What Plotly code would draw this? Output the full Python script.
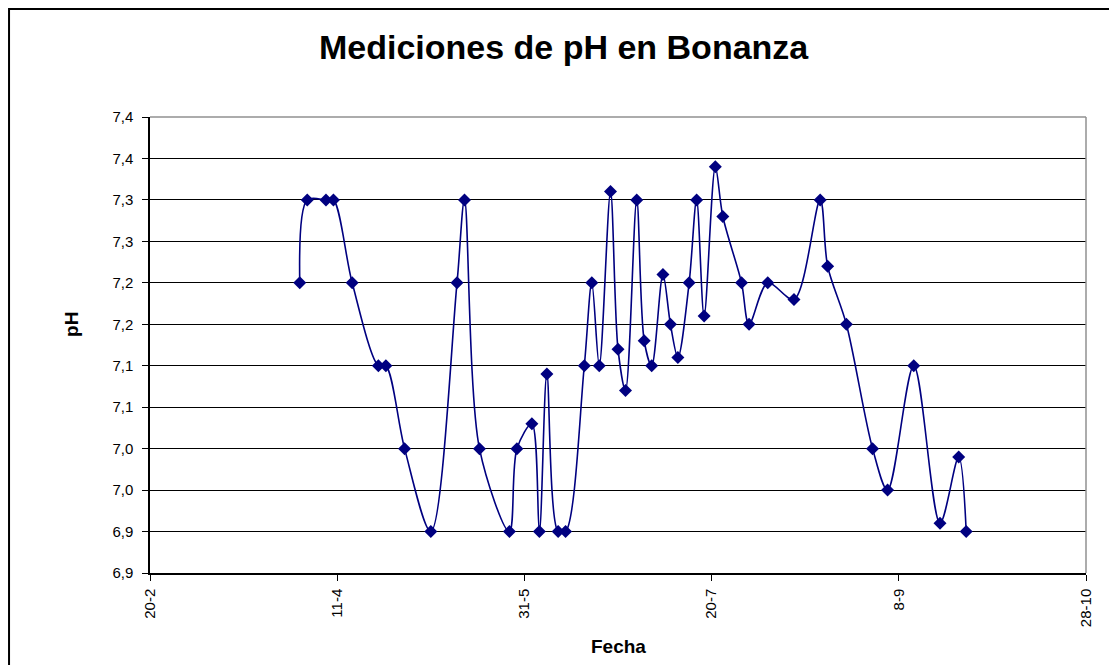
"""Mediciones de pH en Bonanza: Excel-style smoothed line with diamond markers."""
import plotly.graph_objects as go

# --------------------------------------------------------------------------- #
# Data
# --------------------------------------------------------------------------- #
FECHAS = [
    "2007-04-01", "2007-04-03", "2007-04-08", "2007-04-10", "2007-04-15",
    "2007-04-22", "2007-04-24", "2007-04-29", "2007-05-06", "2007-05-13",
    "2007-05-15", "2007-05-19", "2007-05-27", "2007-05-29", "2007-06-02",
    "2007-06-04", "2007-06-06", "2007-06-09", "2007-06-11", "2007-06-16",
    "2007-06-18", "2007-06-20", "2007-06-23", "2007-06-25", "2007-06-27",
    "2007-06-30", "2007-07-02", "2007-07-04", "2007-07-07", "2007-07-09",
    "2007-07-11", "2007-07-14", "2007-07-16", "2007-07-18", "2007-07-21",
    "2007-07-23", "2007-07-28", "2007-07-30", "2007-08-04", "2007-08-11",
    "2007-08-18", "2007-08-20", "2007-08-25", "2007-09-01", "2007-09-05",
    "2007-09-12", "2007-09-19", "2007-09-24", "2007-09-26",
]
PH = [
    7.20, 7.30, 7.30, 7.30, 7.20, 7.10, 7.10, 7.00, 6.90, 7.20,
    7.30, 7.00, 6.90, 7.00, 7.03, 6.90, 7.09, 6.90, 6.90, 7.10,
    7.20, 7.10, 7.31, 7.12, 7.07, 7.30, 7.13, 7.10, 7.21, 7.15,
    7.11, 7.20, 7.30, 7.16, 7.34, 7.28, 7.20, 7.15, 7.20, 7.18,
    7.30, 7.22, 7.15, 7.00, 6.95, 7.10, 6.91, 6.99, 6.90,
]

X_TICKS = ["2007-02-20", "2007-04-11", "2007-05-31", "2007-07-20", "2007-09-08", "2007-10-28"]
X_TICK_LABELS = ["20-2", "11-4", "31-5", "20-7", "8-9", "28-10"]
Y_TICKS = [round(6.85 + 0.05 * i, 2) for i in range(12)]
# Excel rounds half up with one decimal and a comma separator
Y_TICK_LABELS = [f"{v + 1e-6:.1f}".replace(".", ",") for v in Y_TICKS]

NAVY = "#000080"
FONT = "Liberation Sans, Arial, sans-serif"

fig = go.Figure()
fig.add_trace(
    go.Scatter(
        x=FECHAS,
        y=PH,
        mode="lines+markers",
        line=dict(color=NAVY, width=1.6, shape="spline", smoothing=0.9),
        marker=dict(symbol="diamond", size=10, color=NAVY),
        showlegend=False,
    )
)

# the page body has an 8px margin, so the figure is sized to fit the window
fig.update_layout(
    width=1109,
    height=657,
    margin=dict(l=142, r=31, t=109, b=92),
    paper_bgcolor="white",
    plot_bgcolor="white",
    font=dict(family=FONT, color="black", size=15),
    title=dict(
        text="<b>Mediciones de pH en Bonanza</b>",
        x=0.501,
        xanchor="center",
        y=0.9406,
        yanchor="middle",
        font=dict(size=34, family=FONT, color="black"),
    ),
)

fig.update_xaxes(
    type="date",
    range=[X_TICKS[0], X_TICKS[-1]],
    tickvals=X_TICKS,
    ticktext=X_TICK_LABELS,
    tickangle=-90,
    ticks="outside",
    ticklen=6,
    tickcolor="black",
    showline=True,
    linecolor="black",
    linewidth=1.5,
    showgrid=False,
    zeroline=False,
    tickfont=dict(size=15),
    ticklabelstandoff=2,
)
fig.update_yaxes(
    range=[Y_TICKS[0], Y_TICKS[-1]],
    tickvals=Y_TICKS,
    ticktext=Y_TICK_LABELS,
    ticks="outside",
    ticklen=6,
    tickcolor="black",
    showline=True,
    linecolor="black",
    linewidth=1.5,
    showgrid=True,
    gridcolor="black",
    gridwidth=1,
    zeroline=False,
    tickfont=dict(size=15),
    ticklabelstandoff=6,
)

# Plot-area border (grey top and right edges, as in Excel)
fig.add_shape(type="line", xref="paper", yref="paper", x0=0, x1=1, y0=1, y1=1,
              line=dict(color="#909090", width=1.5))
fig.add_shape(type="line", xref="paper", yref="paper", x0=1, x1=1, y0=0, y1=1,
              line=dict(color="#909090", width=1.5))
# Chart-area border, cropped on the right and bottom like the reference
fig.add_shape(type="rect", xref="paper", yref="paper",
              x0=-0.1506, x1=1.1, y0=-0.3, y1=1.2368,
              line=dict(color="black", width=2))

fig.add_annotation(text="<b>Fecha</b>", xref="paper", yref="paper", x=0.5, y=-0.162,
                   xanchor="center", yanchor="middle", showarrow=False,
                   font=dict(size=19))
fig.add_annotation(text="<b>pH</b>", xref="paper", yref="paper", x=-0.0833, y=0.544,
                   xanchor="center", yanchor="middle", textangle=-90, showarrow=False,
                   font=dict(size=19))

fig.write_html("out.html")
